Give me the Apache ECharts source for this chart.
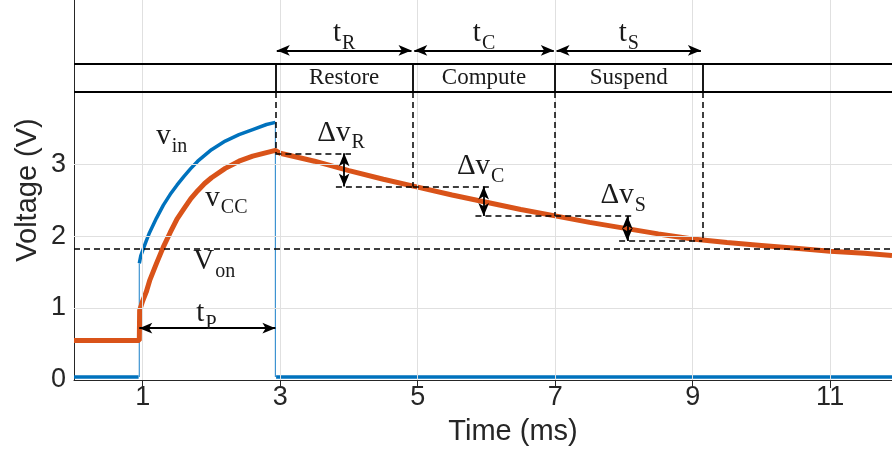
<!DOCTYPE html>
<html><head><meta charset="utf-8">
<style>html,body{margin:0;padding:0;background:#fff}#c{width:892px;height:455px}</style>
<script src="https://cdn.jsdelivr.net/npm/echarts@6.0.0/dist/echarts.min.js"></script>
</head><body><div id="c"></div>
<script>
// ---------- data ----------
const xTicks = [1, 3, 5, 7, 9, 11];
const yTicks = [0, 1, 2, 3];
const yGrid = [1, 2, 3];
const xMax = 11.9, yMax = 5.28;

// v_in (blue)
const vinLowT1 = [0, 0.94];
const vinLow1  = [0.04, 0.04];
const vinRiseT = [0.95, 0.97, 1.0, 1.05, 1.1, 1.2, 1.3, 1.4, 1.5, 1.6, 1.7, 1.8, 1.9, 2.0, 2.2, 2.4, 2.6, 2.8, 2.93];
const vinRise  = [1.62, 1.72, 1.80, 1.93, 2.05, 2.25, 2.43, 2.58, 2.71, 2.83, 2.94, 3.04, 3.12, 3.20, 3.32, 3.41, 3.48, 3.55, 3.58];
const vinLowT2 = [2.94, 11.9];
const vinLow2  = [0.04, 0.04];

// v_CC (orange)
const vccT = [0, 0.95, 0.955, 1.0, 1.05, 1.1, 1.2, 1.3, 1.4, 1.5, 1.6, 1.7, 1.8, 1.9, 2.0, 2.2, 2.4, 2.6, 2.8, 2.93,
              3.0, 3.5, 4.0, 4.5, 5.0, 5.5, 6.0, 6.5, 7.0, 7.5, 8.0, 8.5, 9.0, 9.5, 10.0, 10.5, 11.0, 11.5, 11.9];
const vcc  = [0.55, 0.55, 0.97, 1.10, 1.22, 1.38, 1.62, 1.85, 2.05, 2.24, 2.38, 2.52, 2.63, 2.73, 2.81, 2.94, 3.04, 3.11, 3.16, 3.19,
              3.15, 3.04, 2.91, 2.79, 2.68, 2.57, 2.47, 2.37, 2.28, 2.19, 2.11, 2.03, 1.96, 1.91, 1.87, 1.83, 1.79, 1.76, 1.73];

// annotations
const vOn = 1.83;
const phaseBounds = [2.93, 4.93, 7.0, 9.14];
const phaseNames = ['Restore', 'Compute', 'Suspend'];
const phaseSubs = ['R', 'C', 'S'];
const dropLevels = [3.15, 2.69, 2.28, 1.93];
const deltaArrowX = [3.93, 5.96, 8.05];
const tPRange = [0.95, 2.93];
const tPLevel = 0.72;
const boxLevels = [4.0, 4.4];
const phaseArrowLevel = 4.58;

// ---------- chart ----------
const SERIF = 'Liberation Serif';
const SANS = 'Liberation Sans';
const INK = '#262626';
const TXT = '#1a1a1a';
const BLUE = '#0072BD', ORANGE = '#D95319';
const chart = echarts.init(document.getElementById('c'));

const zip = (t, v) => t.map((x, i) => [x, v[i]]);
const blueMain = [].concat(zip(vinLowT1, vinLow1), [[null, null]], zip(vinRiseT, vinRise), [[null, null]], zip(vinLowT2, vinLow2));
const blueEdges = [[vinRiseT[0], vinLow1[1]], [vinRiseT[0], vinRise[0]], [null, null],
                   [vinRiseT[vinRiseT.length - 1], vinRise[vinRise.length - 1]], [vinRiseT[vinRiseT.length - 1], vinLow2[0]]];

const seg = (a, b, extra) => [Object.assign({coord: a}, extra || {}), Object.assign({coord: b}, extra || {})];
const dashed = [];
dashed.push(seg([0, vOn], [xMax, vOn]));
phaseBounds.forEach((b, i) => dashed.push(seg([b, boxLevels[0]], [b, dropLevels[i]])));
deltaArrowX.forEach((ax, i) => {
  dashed.push(seg([phaseBounds[i], dropLevels[i]], [ax + 0.1, dropLevels[i]]));
  dashed.push(seg([ax - 0.12, dropLevels[i + 1]], [phaseBounds[i + 1], dropLevels[i + 1]]));
});
const solid = [];
boxLevels.forEach(l => solid.push(seg([0, l], [xMax, l])));
phaseBounds.forEach(b => solid.push(seg([b, boxLevels[0]], [b, boxLevels[1]])));
const arrows = [];
const A = {symbol: 'arrow'};
deltaArrowX.forEach((ax, i) => arrows.push(seg([ax, dropLevels[i]], [ax, dropLevels[i + 1]], A)));
arrows.push(seg([tPRange[0], tPLevel], [tPRange[1], tPLevel], A));
for (let i = 0; i < 3; i++) arrows.push(seg([phaseBounds[i] + 0.02, phaseArrowLevel], [phaseBounds[i + 1] - 0.02, phaseArrowLevel], A));

const mlBase = {silent: true, animation: false, label: {show: false}, emphasis: {disabled: true}};

chart.setOption({
  animation: false,
  grid: {left: 74, right: 0, top: 0, bottom: 75, containLabel: false},
  xAxis: [{
    type: 'value', min: 0, max: xMax, position: 'bottom',
    axisLine: {show: true, onZero: false, lineStyle: {color: INK, width: 1}},
    axisTick: {show: true, inside: true, length: 8, customValues: xTicks, lineStyle: {color: INK}},
    axisLabel: {customValues: xTicks, fontSize: 27, fontFamily: SANS, color: INK, margin: 4},
    splitLine: {show: false}
  }, {
    type: 'value', min: 0, max: xMax, position: 'top',
    axisLine: {show: false},
    axisTick: {show: true, inside: true, length: 8, customValues: xTicks, lineStyle: {color: INK}},
    axisLabel: {show: false}, splitLine: {show: false}
  }],
  yAxis: [{
    type: 'value', min: 0, max: yMax,
    axisLine: {show: true, onZero: false, lineStyle: {color: INK, width: 1}},
    axisTick: {show: true, inside: true, length: 8, customValues: yTicks, lineStyle: {color: INK}},
    axisLabel: {customValues: yTicks, fontSize: 27, fontFamily: SANS, color: INK, margin: 8},
    splitLine: {show: false}
  }],
  series: [
    {type: 'line', data: [], z: 0, markLine: Object.assign({}, mlBase, {symbol: 'none',
      lineStyle: {color: '#e0e0e0', width: 1, type: 'solid'},
      data: xTicks.map(v => ({xAxis: v})).concat(yGrid.map(v => ({yAxis: v})))})},
    {type: 'line', data: blueMain, showSymbol: false, connectNulls: false, z: 2,
      lineStyle: {color: BLUE, width: 3.5}, itemStyle: {color: BLUE}},
    {type: 'line', data: blueEdges, showSymbol: false, connectNulls: false, z: 2,
      lineStyle: {color: '#3d93d1', width: 1.2}, itemStyle: {color: BLUE}},
    {type: 'line', data: zip(vccT, vcc), showSymbol: false, z: 3,
      lineStyle: {color: ORANGE, width: 5}, itemStyle: {color: ORANGE}},
    {type: 'line', data: [], z: 5, markLine: Object.assign({}, mlBase, {symbol: 'none',
      lineStyle: {color: '#000', width: 1.5, type: [6, 4]}, data: dashed})},
    {type: 'line', data: [], z: 5, markLine: Object.assign({}, mlBase, {symbol: 'none',
      lineStyle: {color: '#000', width: 1.8, type: 'solid'}, data: solid})},
    {type: 'line', data: [], z: 6, markLine: Object.assign({}, mlBase, {symbol: 'arrow', symbolSize: [8, 13],
      lineStyle: {color: '#000', width: 1.8, type: 'solid'}, data: arrows})}
  ]
});

// ---------- text annotations ----------
const P = (x, y) => chart.convertToPixel({gridIndex: 0}, [x, y]);
const mctx = document.createElement('canvas').getContext('2d');
const MAIN_FS = 29, SUB_FS = 20, SUB_DROP = 10;
function textWidth(t, fs) { mctx.font = fs + 'px "' + SERIF + '"'; return mctx.measureText(t).width; }
function subText(g, main, s, x, y, align) {
  const p = P(x, y);
  const wm = textWidth(main, MAIN_FS), ws = textWidth(s, SUB_FS);
  let left = p[0];
  if (align === 'center') left = p[0] - (wm + 1 + ws) / 2;
  g.push({type: 'text', z: 20, style: {text: main, x: left, y: p[1], align: 'left', verticalAlign: 'middle',
    fontSize: MAIN_FS, fontFamily: SERIF, fill: TXT}});
  g.push({type: 'text', z: 20, style: {text: s, x: left + wm + 1, y: p[1] + SUB_DROP, align: 'left', verticalAlign: 'middle',
    fontSize: SUB_FS, fontFamily: SERIF, fill: TXT}});
}
const g = [];
subText(g, 'v', 'in', 1.195, 3.38, 'left');
subText(g, 'v', 'CC', 1.91, 2.53, 'left');
subText(g, 'V', 'on', 1.735, 1.65, 'left');
subText(g, 't', 'P', 1.78, 0.92, 'left');
deltaArrowX.forEach((ax, i) => subText(g, '\u0394v', phaseSubs[i], ax - 0.39, dropLevels[i] + 0.28, 'left'));
for (let i = 0; i < 3; i++) {
  const c = (phaseBounds[i] + phaseBounds[i + 1]) / 2;
  subText(g, 't', phaseSubs[i], c, 4.81, 'center');
  const p = P(c, (boxLevels[0] + boxLevels[1]) / 2);
  g.push({type: 'text', z: 20, style: {text: phaseNames[i], x: p[0], y: p[1], align: 'center', verticalAlign: 'middle',
    fontSize: 23, fontFamily: SERIF, fill: TXT}});
}
g.push({type: 'text', z: 20, rotation: Math.PI / 2, x: 28, y: 190, style: {text: 'Voltage (V)', x: 0, y: 0,
  align: 'center', verticalAlign: 'middle', fontSize: 29, fontFamily: SANS, fill: INK}});
g.push({type: 'text', z: 20, style: {text: 'Time (ms)', x: 513, y: 432,
  align: 'center', verticalAlign: 'middle', fontSize: 29, fontFamily: SANS, fill: INK}});
chart.setOption({graphic: g});
</script></body></html>
